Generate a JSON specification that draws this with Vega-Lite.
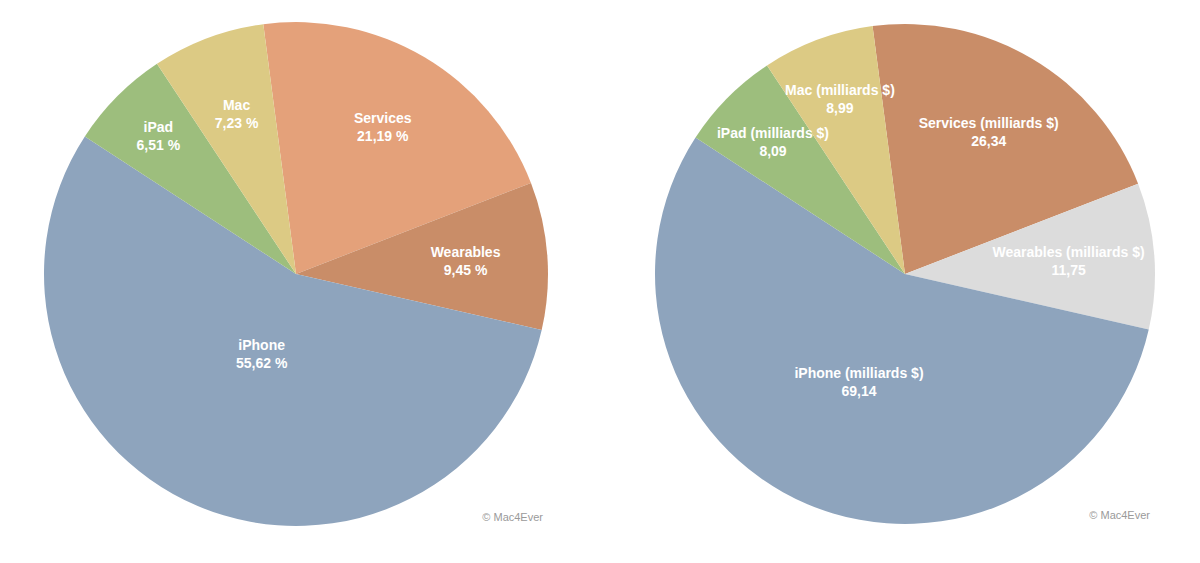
{
  "$schema": "https://vega.github.io/schema/vega-lite/v6.json",
  "padding": 0,
  "background": "white",
  "spacing": 17,
  "config": {"view": {"stroke": null}, "title": {"font": "Liberation Sans", "fontSize": 11, "fontWeight": "normal", "color": "#9a9a9a"}},
  "datasets": {
    "pct": [
      {"cat": "Services", "rank": 1, "value": 21.19, "label": "Services\n21,19 %"},
      {"cat": "Wearables", "rank": 2, "value": 9.45, "label": "Wearables\n9,45 %"},
      {"cat": "iPhone", "rank": 3, "value": 55.62, "label": "iPhone\n55,62 %"},
      {"cat": "iPad", "rank": 4, "value": 6.51, "label": "iPad\n6,51 %"},
      {"cat": "Mac", "rank": 5, "value": 7.23, "label": "Mac\n7,23 %"}
    ],
    "usd": [
      {"cat": "Services", "rank": 1, "value": 26.34, "label": "Services (milliards $)\n26,34"},
      {"cat": "Wearables", "rank": 2, "value": 11.75, "label": "Wearables (milliards $)\n11,75"},
      {"cat": "iPhone", "rank": 3, "value": 69.14, "label": "iPhone (milliards $)\n69,14"},
      {"cat": "iPad", "rank": 4, "value": 8.09, "label": "iPad (milliards $)\n8,09"},
      {"cat": "Mac", "rank": 5, "value": 8.99, "label": "Mac (milliards $)\n8,99"}
    ]
  },
  "resolve": {"scale": {"color": "independent", "theta": "independent"}},
  "hconcat": [
    {
      "width": 592,
      "height": 548,
      "data": {"name": "pct"},
      "title": {"text": "© Mac4Ever", "orient": "bottom", "anchor": "end", "offset": -36, "dx": -49},
      "encoding": {
        "theta": {"field": "value", "type": "quantitative", "stack": true, "scale": {"range": [-0.1302, 6.1530]}},
        "order": {"field": "rank", "type": "quantitative"}
      },
      "layer": [
        {
          "mark": {"type": "arc", "outerRadius": 252, "stroke": null},
          "encoding": {
            "color": {"field": "cat", "type": "nominal", "legend": null,
              "scale": {"domain": ["Services", "Wearables", "iPhone", "iPad", "Mac"],
                        "range": ["#E4A17A", "#C98D68", "#8EA4BD", "#9DBE7D", "#DCCA84"]}}
          }
        },
        {
          "mark": {"type": "text", "radius": 88, "dy": -9, "lineBreak": "\n", "font": "Liberation Sans", "fontWeight": "bold", "fontSize": 14, "lineHeight": 18, "fill": "white", "align": "center", "baseline": "middle"},
          "encoding": {"text": {"condition": {"test": "datum.cat === 'iPhone'", "field": "label"}, "value": ""}}
        },
        {
          "mark": {"type": "text", "radius": 194, "dy": -9, "lineBreak": "\n", "font": "Liberation Sans", "fontWeight": "bold", "fontSize": 14, "lineHeight": 18, "fill": "white", "align": "center", "baseline": "middle"},
          "encoding": {"text": {"condition": {"test": "datum.cat === 'iPad'", "field": "label"}, "value": ""}}
        },
        {
          "mark": {"type": "text", "radius": 170, "dy": -9, "lineBreak": "\n", "font": "Liberation Sans", "fontWeight": "bold", "fontSize": 14, "lineHeight": 18, "fill": "white", "align": "center", "baseline": "middle"},
          "encoding": {"text": {"condition": {"test": "datum.cat === 'Services' || datum.cat === 'Wearables' || datum.cat === 'Mac'", "field": "label"}, "value": ""}}
        }
      ]
    },
    {
      "width": 592,
      "height": 548,
      "data": {"name": "usd"},
      "title": {"text": "© Mac4Ever", "orient": "bottom", "anchor": "end", "offset": -38, "dx": -51},
      "encoding": {
        "theta": {"field": "value", "type": "quantitative", "stack": true, "scale": {"range": [-0.1302, 6.1530]}},
        "order": {"field": "rank", "type": "quantitative"}
      },
      "layer": [
        {
          "mark": {"type": "arc", "outerRadius": 250, "stroke": null},
          "encoding": {
            "color": {"field": "cat", "type": "nominal", "legend": null,
              "scale": {"domain": ["Services", "Wearables", "iPhone", "iPad", "Mac"],
                        "range": ["#C98D68", "#DCDCDC", "#8EA4BD", "#9DBE7D", "#DCCA84"]}}
          }
        },
        {
          "mark": {"type": "text", "radius": 118, "dy": -9, "lineBreak": "\n", "font": "Liberation Sans", "fontWeight": "bold", "fontSize": 14, "lineHeight": 18, "fill": "white", "align": "center", "baseline": "middle"},
          "encoding": {"text": {"condition": {"test": "datum.cat === 'iPhone'", "field": "label"}, "value": ""}}
        },
        {
          "mark": {"type": "text", "radius": 164, "dy": -9, "lineBreak": "\n", "font": "Liberation Sans", "fontWeight": "bold", "fontSize": 14, "lineHeight": 18, "fill": "white", "align": "center", "baseline": "middle"},
          "encoding": {"text": {"condition": {"test": "datum.cat === 'Services' || datum.cat === 'Wearables'", "field": "label"}, "value": ""}}
        },
        {
          "mark": {"type": "text", "radius": 186, "dy": -9, "lineBreak": "\n", "font": "Liberation Sans", "fontWeight": "bold", "fontSize": 14, "lineHeight": 18, "fill": "white", "align": "center", "baseline": "middle"},
          "encoding": {"text": {"condition": {"test": "datum.cat === 'iPad' || datum.cat === 'Mac'", "field": "label"}, "value": ""}}
        }
      ]
    }
  ]
}
